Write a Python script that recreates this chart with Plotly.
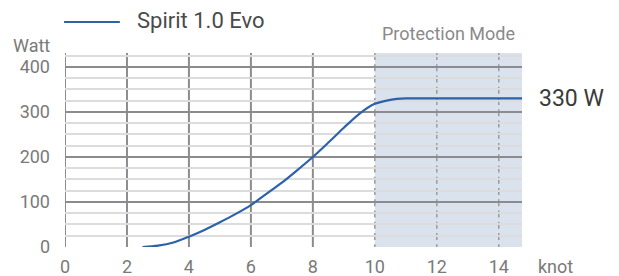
import plotly.graph_objects as go

# Data
wind_knots = [2.5, 3.0, 3.5, 4.0, 4.5, 5.0, 5.5, 6.0, 6.5, 7.0, 7.5, 8.0, 8.5, 9.0, 9.5, 10.0, 10.5, 11.0, 12.0, 13.0, 14.0, 14.75]
power_watt = [0, 3, 10, 23, 38, 55, 73, 93, 118, 143, 171, 200, 232, 265, 296, 318, 327, 330, 330, 330, 330, 330]
series_name = "Spirit 1.0 Evo"
x_ticks = [0, 2, 4, 6, 8, 10, 12, 14]
y_ticks = [0, 100, 200, 300, 400]
x_solid_grid = [0, 2, 4, 6, 8]
x_dashed_grid = [10, 12, 14]
protection_start = 10
x_max = 14.75
y_max = 431
rated_label = "330 W"
rated_value = 330

LINE_COLOR = "#2b62a8"
GRID_DARK = "#8c8c90"
GRID_LIGHT = "#dcdcdc"
TEXT = "#7a7a7a"
FONT = "Roboto"

fig = go.Figure()

fig.add_trace(go.Scatter(
    x=wind_knots, y=power_watt, mode="lines",
    line=dict(color=LINE_COLOR, width=2.2, shape="spline", smoothing=0.8),
    name=series_name, showlegend=False, hoverinfo="x+y",
))

shapes = []
# Protection mode shaded region
shapes.append(dict(type="rect", xref="x", yref="paper", x0=protection_start, x1=x_max, y0=0, y1=1,
                   fillcolor="#dae3ed", line=dict(width=0), layer="below"))
for xv in x_solid_grid:
    shapes.append(dict(type="line", xref="x", yref="paper", x0=xv, x1=xv, y0=0, y1=1,
                       line=dict(color=GRID_DARK, width=2), layer="below"))
for xv in x_dashed_grid:
    shapes.append(dict(type="line", xref="x", yref="paper", x0=xv, x1=xv, y0=1, y1=0,
                       line=dict(color="#9a9a9e", width=1.5, dash="7px,4.25px"), layer="below"))
# Legend sample line
shapes.append(dict(type="line", xref="paper", yref="paper", x0=-0.002, x1=0.12, y0=1.16, y1=1.16,
                   line=dict(color=LINE_COLOR, width=2)))

# body has an 8px default margin; compensate so the figure fills the 619x276 window
fig.update_layout(
    width=611, height=268,
    margin=dict(l=57, r=97, t=45, b=29, autoexpand=False),
    paper_bgcolor="white", plot_bgcolor="rgba(0,0,0,0)",
    font=dict(family=FONT, color=TEXT, size=18),
    shapes=shapes,
    showlegend=False,
    xaxis=dict(range=[0, x_max], tickvals=x_ticks, ticktext=[str(v) for v in x_ticks],
               showgrid=False, zeroline=False, showline=False, ticks="", automargin=False,
               ticklabelstandoff=7, tickfont=dict(size=18, color=TEXT, family=FONT)),
    yaxis=dict(range=[0, y_max], tickvals=y_ticks, ticktext=[str(v) for v in y_ticks],
               showgrid=True, gridcolor=GRID_DARK, gridwidth=2, zeroline=False, showline=False,
               ticks="", ticklabelstandoff=14, automargin=False,
               tickfont=dict(size=18, color=TEXT, family=FONT),
               minor=dict(dtick=25, tick0=0, showgrid=True, gridcolor=GRID_LIGHT, gridwidth=2)),
    annotations=[
        dict(text="Watt", xref="paper", yref="paper", x=-0.028, y=1.041, xanchor="right", yanchor="middle",
             showarrow=False, font=dict(size=18, color=TEXT, family=FONT)),
        dict(text="knot", xref="paper", yref="paper", x=1.031, y=-0.103, xanchor="left", yanchor="middle",
             showarrow=False, font=dict(size=18, color=TEXT, family=FONT)),
        dict(text="Protection Mode", xref="x", yref="paper", x=(protection_start + x_max) / 2, y=1.103,
             xanchor="center", yanchor="middle", showarrow=False, font=dict(size=18, color="#8a8a8a", family=FONT)),
        dict(text=rated_label, xref="paper", yref="y", x=1.033, y=rated_value, xanchor="left", yanchor="middle",
             showarrow=False, font=dict(size=23, color="#3a3a3a", family=FONT)),
        dict(text=series_name, xref="paper", yref="paper", x=0.153, y=1.165, xanchor="left", yanchor="middle",
             showarrow=False, font=dict(size=22, color="#4a4a4a", family=FONT)),
    ],
)

fig.write_html("out.html")
